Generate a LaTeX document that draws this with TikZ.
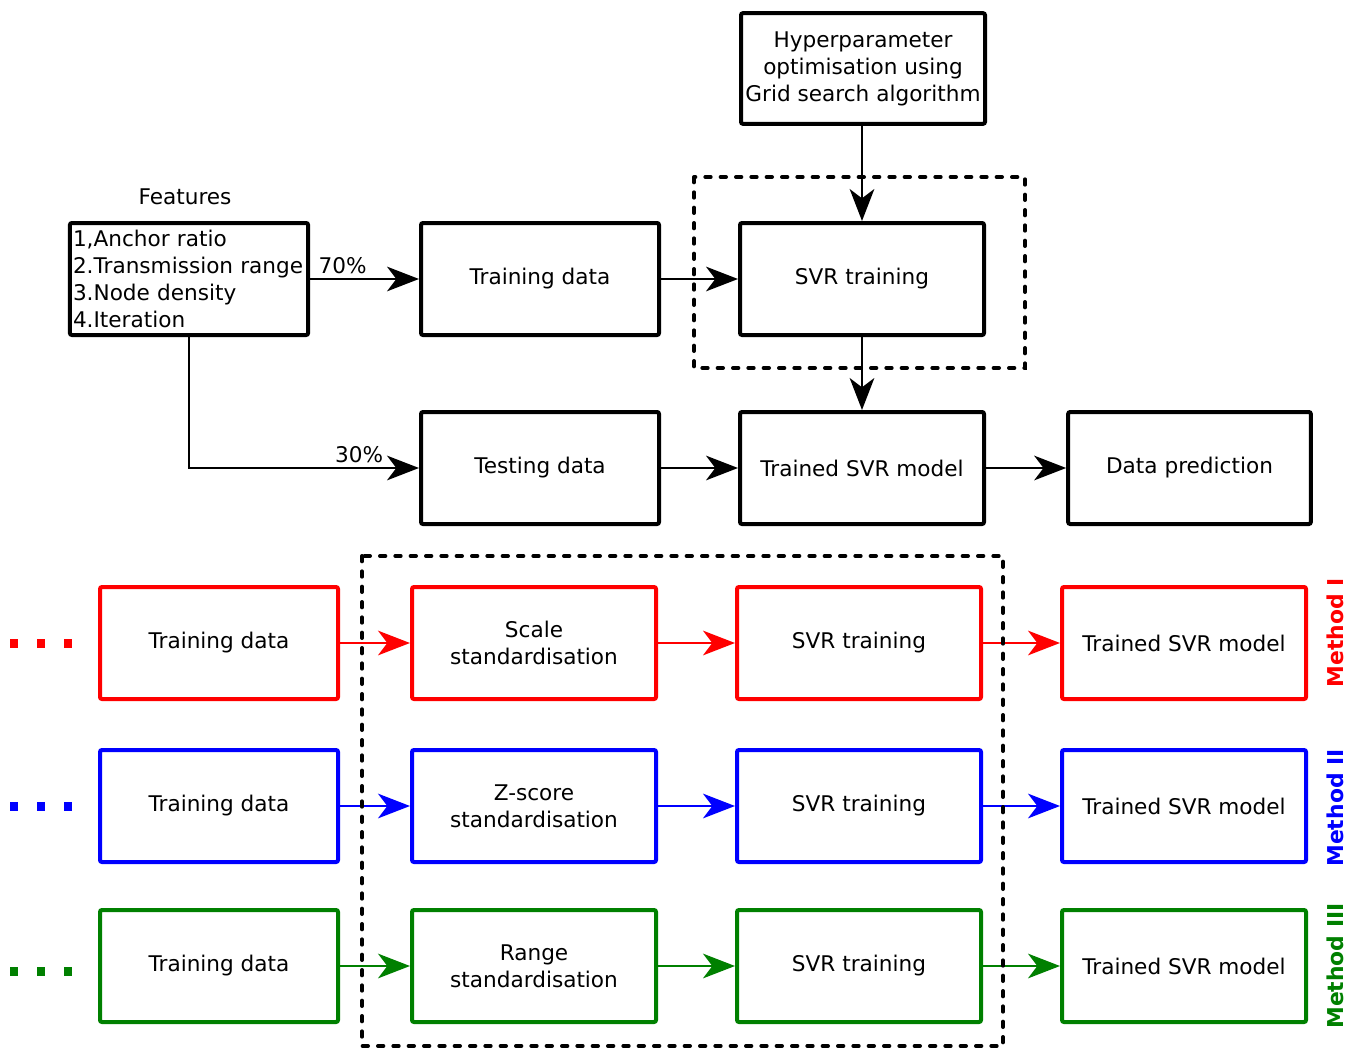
\documentclass[tikz,border=0pt]{standalone}
\usepackage{fontspec}
\setmainfont{DejaVu Sans}
\usetikzlibrary{arrows.meta}
\definecolor{mred}{RGB}{255, 0, 0}
\definecolor{mblue}{RGB}{0, 0, 255}
\definecolor{mgreen}{RGB}{0, 128, 0}

\begin{document}
\begin{tikzpicture}[x=0.75pt, y=-0.75pt,
  every node/.style={font=\fontsize{16.2}{20.25}\selectfont},
  box/.style={draw=black, line width=3pt, rounded corners=1.5pt, align=center, minimum width=183pt, minimum height=84pt},
  narrowbox/.style={box, minimum width=178.5pt},
  arr/.style={line width=1.6pt, -{Stealth[length=24pt, width=18.5pt, inset=7pt]}},
  carr/.style={line width=1.6pt, -{Stealth[length=24pt, width=18.5pt, inset=7pt]}},
  group/.style={draw=black, line width=3pt, line cap=round, dash pattern=on 4pt off 7.5pt},
  dots/.style={line width=6.75pt, dash pattern=on 6pt off 14.25pt},
  method/.style={rotate=90, font=\fontsize{16.4}{19}\selectfont\bfseries}]
\useasboundingbox (0,0) rectangle (1360,1049);
% top part
\node (hyp) [box, minimum height=83pt] at (863, 68.5) {Hyperparameter\\optimisation using\\Grid search algorithm};
\node (featlabel) at (185, 197) {Features};
\node (feat) [narrowbox, align=left, text width=174pt, inner xsep=2.3pt] at (189, 279) {1,Anchor ratio\\2.Transmission range\\3.Node density\\4.Iteration};
\node (train) [narrowbox] at (540, 279) {Training data};
\node (svr) [box] at (862, 279) {SVR training};
\node (test) [narrowbox] at (540, 468) {Testing data};
\node (model) [box] at (862, 468) {Trained SVR model};
\node (pred) [box, minimum width=182pt] at (1189.5, 468) {Data prediction};
\draw [group] (694, 177) rectangle (1025, 368);
\draw [arr] (feat) -- node [above, pos=0.3] (p70) {70\%} (train);
\draw [arr] (feat.south) |- node [above, pos=0.87] (p30) {30\%} (test);
\draw [arr] (train) -- (svr);
\draw [arr] (svr.north |- hyp.south) -- (svr.north);
\draw [arr] (svr) -- (model);
\draw [arr] (test) -- (model);
\draw [arr] (model) -- (pred);
% method I
\draw [dots, mred] (10, 643) -- (72, 643);
\node (train1) [narrowbox, draw=mred] at (219, 643) {Training data};
\node (std1) [box, draw=mred] at (534, 643) {Scale\\standardisation};
\node (svr1) [box, draw=mred] at (859, 643) {SVR training};
\node (model1) [box, draw=mred] at (1184, 643) {Trained SVR model};
\node (m1) [method, text=mred] at (1335, 633) {Method I};
\draw [carr, mred] (train1) -- (std1);
\draw [carr, mred] (std1) -- (svr1);
\draw [carr, mred] (svr1) -- (model1);
% method II
\draw [dots, mblue] (10, 806) -- (72, 806);
\node (train2) [narrowbox, draw=mblue] at (219, 806) {Training data};
\node (std2) [box, draw=mblue] at (534, 806) {Z-score\\standardisation};
\node (svr2) [box, draw=mblue] at (859, 806) {SVR training};
\node (model2) [box, draw=mblue] at (1184, 806) {Trained SVR model};
\node (m2) [method, text=mblue] at (1335, 808) {Method II};
\draw [carr, mblue] (train2) -- (std2);
\draw [carr, mblue] (std2) -- (svr2);
\draw [carr, mblue] (svr2) -- (model2);
% method III
\draw [dots, mgreen] (10, 971) -- (72, 971);
\node (train3) [narrowbox, draw=mgreen] at (219, 966) {Training data};
\node (std3) [box, draw=mgreen] at (534, 966) {Range\\standardisation};
\node (svr3) [box, draw=mgreen] at (859, 966) {SVR training};
\node (model3) [box, draw=mgreen] at (1184, 966) {Trained SVR model};
\node (m3) [method, text=mgreen] at (1335, 966) {Method III};
\draw [carr, mgreen] (train3) -- (std3);
\draw [carr, mgreen] (std3) -- (svr3);
\draw [carr, mgreen] (svr3) -- (model3);
\draw [group] (362, 556) rectangle (1003, 1046);
\end{tikzpicture}
\end{document}
